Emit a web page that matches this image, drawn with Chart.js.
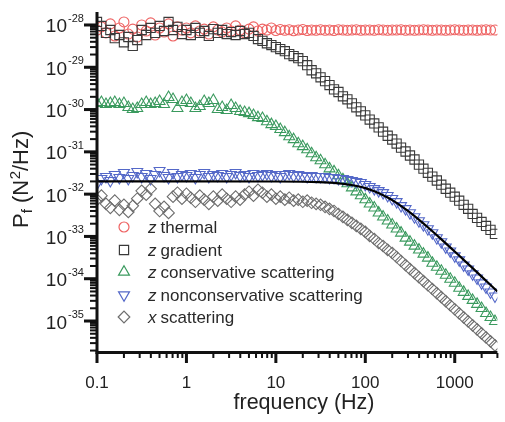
<!DOCTYPE html>
<html><head><meta charset="utf-8">
<script src="https://cdn.jsdelivr.net/npm/chart.js@4.4.1/dist/chart.umd.min.js"></script>
<style>html,body{margin:0;padding:0;background:#fff;}#wrap{width:505px;height:422px;}</style>
</head><body><div id="wrap"><canvas id="c" width="505" height="422"></canvas></div>
<script>
// ---- data ----
const freq = [0.1,0.112,0.126,0.141,0.158,0.178,0.2,0.224,0.251,0.282,0.316,0.355,0.398,0.447,0.501,0.562,0.631,0.708,0.794,0.891,
1,1.12,1.26,1.41,1.58,1.78,2,2.24,2.51,2.82,3.16,3.55,3.98,4.47,5.01,5.62,6.31,7.08,7.94,8.91,
10,11.2,12.6,14.1,15.8,17.8,20,22.4,25.1,28.2,31.6,35.5,39.8,44.7,50.1,56.2,63.1,70.8,79.4,89.1,
100,112,126,141,158,178,200,224,251,282,316,355,398,447,501,562,631,708,794,891,
1000,1122,1259,1413,1585,1778,1995,2239,2512,2818];

const zThermal = [7.6e-29,9.0e-29,6.5e-29,1.06e-28,5.5e-29,8.5e-29,1.18e-28,6.1e-29,8.0e-29,5.2e-29,
1.0e-28,7.2e-29,1.12e-28,5.8e-29,8.5e-29,6.8e-29,1.06e-28,5.5e-29,9.0e-29,7.6e-29,
8.5e-29,6.5e-29,9.5e-29,7.2e-29,8.0e-29,6.1e-29,9.0e-29,7.6e-29,6.8e-29,8.5e-29,
7.2e-29,9.5e-29,7.6e-29,6.5e-29,8.0e-29,9.0e-29,7.2e-29,8.0e-29,7.6e-29,8.5e-29,
7.4e-29,7.8e-29,7.5e-29,7.7e-29,7.3e-29,7.6e-29,7.8e-29,7.4e-29,7.6e-29,7.5e-29,
7.7e-29,7.5e-29,7.6e-29,7.4e-29,7.7e-29,7.6e-29,7.5e-29,7.6e-29,7.7e-29,7.5e-29,
7.6e-29,7.6e-29,7.5e-29,7.7e-29,7.6e-29,7.5e-29,7.6e-29,7.6e-29,7.7e-29,7.5e-29,
7.6e-29,7.5e-29,7.6e-29,7.7e-29,7.6e-29,7.5e-29,7.6e-29,7.6e-29,7.5e-29,7.6e-29,
7.7e-29,7.6e-29,7.5e-29,7.6e-29,7.6e-29,7.5e-29,7.6e-29,7.7e-29,7.6e-29,7.6e-29];

const zGradient = [1.18e-28,9.5e-29,6.5e-29,7.6e-29,4.9e-29,5.8e-29,3.9e-29,5.2e-29,3.2e-29,4.4e-29,
7.6e-29,5.8e-29,8.5e-29,6.5e-29,9.5e-29,7.2e-29,1.18e-28,7.6e-29,9.0e-29,6.1e-29,
7.6e-29,5.8e-29,8.5e-29,6.5e-29,7.2e-29,5.5e-29,8.0e-29,6.5e-29,7.6e-29,6.1e-29,
6.8e-29,5.8e-29,7.2e-29,6.1e-29,6.5e-29,5.5e-29,4.65e-29,4.2e-29,3.7e-29,3.35e-29,
3.0e-29,2.7e-29,2.4e-29,2.05e-29,1.84e-29,1.64e-29,1.4e-29,1.12e-29,8.5e-30,7.2e-30,
5.8e-30,4.7e-30,3.8e-30,3.0e-30,2.6e-30,2.06e-30,1.75e-30,1.4e-30,1.13e-30,9.1e-31,
7.3e-31,5.8e-31,4.7e-31,3.8e-31,3.0e-31,2.4e-31,1.96e-31,1.57e-31,1.26e-31,1.02e-31,
8.2e-32,6.6e-32,5.0e-32,4.0e-32,3.2e-32,2.6e-32,2.1e-32,1.67e-32,1.34e-32,1.08e-32,
8.7e-33,7.0e-33,5.6e-33,4.5e-33,3.4e-33,2.75e-33,2.2e-33,1.77e-33,1.43e-33,1.15e-33];

const zConservative = [1.40e-30,1.48e-30,1.33e-30,1.40e-30,1.48e-30,1.33e-30,1.40e-30,1.13e-30,1.01e-30,1.07e-30,
1.33e-30,1.48e-30,1.33e-30,1.40e-30,1.57e-30,1.33e-30,1.95e-30,1.75e-30,1.07e-30,1.48e-30,
1.65e-30,1.40e-30,1.07e-30,1.19e-30,1.57e-30,1.40e-30,1.65e-30,1.01e-30,1.13e-30,9.6e-31,
1.26e-30,1.07e-30,9.1e-31,8.6e-31,8.1e-31,7.3e-31,6.5e-31,6.2e-31,5.2e-31,4.45e-31,
4.0e-31,3.4e-31,2.87e-31,2.3e-31,1.96e-31,1.57e-31,1.34e-31,1.13e-31,9.1e-32,7.3e-32,
6.2e-32,5.0e-32,4.0e-32,3.4e-32,2.74e-32,2.2e-32,1.77e-32,1.42e-32,1.14e-32,9.2e-33,
7.4e-33,5.9e-33,4.75e-33,3.6e-33,2.9e-33,2.33e-33,1.88e-33,1.51e-33,1.21e-33,9.2e-34,
7.4e-34,5.95e-34,4.8e-34,3.84e-34,3.1e-34,2.35e-34,1.89e-34,1.52e-34,1.22e-34,9.8e-35,
7.9e-35,6.0e-35,4.8e-35,3.86e-35,3.1e-35,2.5e-35,2.0e-35,1.52e-35,1.22e-35,9.8e-36];

const zNonconservative = [1.77e-32,2.32e-32,2.59e-32,2.08e-32,2.89e-32,2.45e-32,3.22e-32,2.32e-32,2.74e-32,3.4e-32,
2.59e-32,3.05e-32,2.32e-32,2.89e-32,3.6e-32,2.74e-32,2.45e-32,3.22e-32,2.59e-32,2.89e-32,
2.74e-32,3.05e-32,2.45e-32,2.89e-32,3.22e-32,2.59e-32,2.89e-32,2.74e-32,3.05e-32,2.59e-32,
2.89e-32,3.22e-32,2.74e-32,2.89e-32,2.59e-32,3.05e-32,2.74e-32,2.89e-32,3.05e-32,2.74e-32,
2.89e-32,2.59e-32,2.89e-32,3.05e-32,2.74e-32,2.89e-32,2.74e-32,2.59e-32,2.74e-32,2.59e-32,
2.59e-32,2.59e-32,2.45e-32,2.45e-32,2.32e-32,2.32e-32,2.2e-32,2.08e-32,1.97e-32,1.87e-32,
1.67e-32,1.5e-32,1.34e-32,1.2e-32,1.08e-32,9.2e-33,7.8e-33,6.6e-33,5.3e-33,4.5e-33,
3.6e-33,2.9e-33,2.33e-33,1.88e-33,1.51e-33,1.21e-33,9.2e-34,7.4e-34,5.6e-34,4.5e-34,
3.44e-34,2.77e-34,2.1e-34,1.69e-34,1.29e-34,1.03e-34,7.9e-35,6.3e-35,4.8e-35,3.86e-35];

const xScattering = [7.4e-33,9.2e-33,5.9e-33,4.75e-33,7.0e-33,4.26e-33,5.6e-33,3.8e-33,5.3e-33,7.8e-33,
1.2e-32,9.7e-33,1.34e-32,5.9e-33,4.0e-33,5.0e-33,3.6e-33,8.7e-33,1.08e-32,7.8e-33,
1.02e-32,8.2e-33,6.6e-33,9.2e-33,7.4e-33,5.9e-33,8.7e-33,7.0e-33,9.7e-33,7.8e-33,
6.6e-33,8.7e-33,7.4e-33,9.7e-33,1.14e-32,9.2e-33,1.27e-32,1.08e-32,8.7e-33,9.7e-33,
7.8e-33,8.7e-33,7.4e-33,8.2e-33,7.0e-33,7.4e-33,6.6e-33,7.0e-33,6.25e-33,5.9e-33,
5.6e-33,5.0e-33,4.5e-33,4.0e-33,3.4e-33,2.9e-33,2.47e-33,2.1e-33,1.77e-33,1.51e-33,
1.28e-33,1.03e-33,8.7e-34,7.0e-34,5.95e-34,4.8e-34,4.06e-34,3.26e-34,2.62e-34,2.1e-34,
1.69e-34,1.36e-34,1.09e-34,8.8e-35,7.0e-35,5.7e-35,4.55e-35,3.66e-35,2.94e-35,2.36e-35,
1.9e-35,1.52e-35,1.22e-35,9.8e-36,7.9e-36,6.35e-36,5.1e-36,4.1e-36,3.3e-36,2.65e-36];

const fitFreq = [0.1,1,10,20,30,40,50,60,70,85,100,120,150,180,200,250,300,400,500,700,1000,1500,2000,3000];
const fitValues = [2.0e-32,2.0e-32,1.99e-32,1.965e-32,1.923e-32,1.867e-32,1.80e-32,1.724e-32,1.642e-32,1.514e-32,1.385e-32,1.22e-32,1.0e-32,8.2e-33,7.2e-33,5.29e-33,4.0e-33,2.466e-33,1.651e-33,8.78e-34,4.40e-34,1.98e-34,1.119e-34,4.99e-35];

const xTickValues = [0.1,1,10,100,1000];
const xTickLabels = ['0.1','1','10','100','1000'];
const yTickExponents = [-28,-29,-30,-31,-32,-33,-34,-35];
const legendPrefixes = ['z','z','z','z','x'];
const legendLabels = ['thermal','gradient','conservative scattering','nonconservative scattering','scattering'];

// ---- styles ----
const FONT = '"Liberation Sans", Arial, Helvetica, sans-serif';
const styles = [
  {color:'#ee6262', pointStyle:'circle', radius:5, rotation:0},
  {color:'#3a3a3a', pointStyle:'rect', radius:6.5, rotation:0},
  {color:'#3a9a5e', pointStyle:'triangle', radius:6.3, rotation:0},
  {color:'#5468c8', pointStyle:'triangle', radius:6.3, rotation:180},
  {color:'#6e6e6e', pointStyle:'rectRot', radius:5.8, rotation:0}
];
const seriesValues = [zThermal, zGradient, zConservative, zNonconservative, xScattering];

function scatterSet(i){
  const s = styles[i];
  return {
    type:'scatter',
    data: freq.map((f,k)=>({x:f, y:seriesValues[i][k]})),
    showLine:false,
    pointStyle:s.pointStyle, pointRadius:s.radius, pointRotation:s.rotation,
    pointBorderColor:s.color, pointBackgroundColor:'rgba(0,0,0,0)', pointBorderWidth:1.1,
    borderColor:s.color, backgroundColor:'rgba(0,0,0,0)'
  };
}

const datasets = [
  {type:'scatter', data: fitFreq.map((f,k)=>({x:f,y:fitValues[k]})), showLine:true, pointRadius:0,
   borderColor:'#000', borderWidth:2.2, cubicInterpolationMode:'monotone', fill:false},
  scatterSet(4), scatterSet(3), scatterSet(2), scatterSet(1), scatterSet(0)
];

function drawMarker(ctx, s, x, y){
  ctx.save();
  ctx.strokeStyle = s.color; ctx.fillStyle = 'rgba(0,0,0,0)'; ctx.lineWidth = 1.2;
  if (Chart.helpers && Chart.helpers.drawPoint) {
    Chart.helpers.drawPoint(ctx, {pointStyle:s.pointStyle, rotation:s.rotation, radius:s.radius, borderWidth:1.2}, x, y);
  }
  ctx.restore();
}

const deco = {
  id:'deco',
  afterDraw(chart){
    const ctx = chart.ctx, xs = chart.scales.x, ys = chart.scales.y, a = chart.chartArea;
    ctx.save();
    ctx.fillStyle = '#111';
    // axis lines
    ctx.fillRect(a.left - 1.5, a.top - 1, 3, a.bottom - a.top + 2.5);
    ctx.fillRect(a.left - 1.5, a.bottom - 1, a.right - a.left + 1.5, 3);
    // x ticks
    for (let e=-1; e<=3; e++) for (let m=1; m<=9; m++){
      const v = m*Math.pow(10,e);
      if (v < xs.min*0.999 || v > xs.max*1.001) continue;
      const px = xs.getPixelForValue(v);
      if (m===1) ctx.fillRect(px-1.5, a.bottom+1, 3, 10);
      else ctx.fillRect(px-1, a.bottom+1, 2, 5);
    }
    // y ticks
    for (let e=-36; e<=-28; e++) for (let m=1; m<=9; m++){
      const v = m*Math.pow(10,e);
      if (v < ys.min*0.999 || v > ys.max*1.001) continue;
      const py = ys.getPixelForValue(v);
      if (m===1) ctx.fillRect(a.left-13, py-1.5, 12, 3);
      else ctx.fillRect(a.left-7, py-1, 6, 2);
    }
    // x tick labels
    ctx.fillStyle = '#222';
    ctx.font = '17px ' + FONT; ctx.textAlign = 'center'; ctx.textBaseline = 'alphabetic';
    xTickValues.forEach((v,i)=>{ ctx.fillText(xTickLabels[i], xs.getPixelForValue(v), 388); });
    // y tick labels
    yTickExponents.forEach(e=>{
      const py = ys.getPixelForValue(Math.pow(10,e));
      ctx.font = '19px ' + FONT; ctx.textAlign = 'right';
      ctx.fillText('10', 67, py+7.5);
      ctx.font = '11px ' + FONT; ctx.textAlign = 'left';
      ctx.fillText(String(e), 68, py-3);
    });
    // x title
    ctx.font = '21.5px ' + FONT; ctx.textAlign = 'center';
    ctx.fillText('frequency (Hz)', 304, 409);
    // y title (rotated)
    ctx.save();
    ctx.translate(28, 228);
    ctx.rotate(-Math.PI/2);
    ctx.textAlign = 'left';
    let cx = 0;
    const big = '22px ' + FONT, small = '15px ' + FONT;
    ctx.font = big; ctx.fillText('P', cx, 0); cx += ctx.measureText('P').width;
    ctx.font = small; ctx.fillText('f', cx, 4); cx += ctx.measureText('f').width;
    ctx.font = big; ctx.fillText(' (N', cx, 0); cx += ctx.measureText(' (N').width;
    ctx.font = small; ctx.fillText('2', cx+0.5, -8); cx += ctx.measureText('2').width + 0.5;
    ctx.font = big; ctx.fillText('/Hz)', cx, 0);
    ctx.restore();
    // legend
    const rows = [227, 250, 272, 295, 317];
    styles.forEach((s,i)=>{
      drawMarker(ctx, s, 124, rows[i]);
      ctx.fillStyle = '#2a2a2a';
      ctx.textAlign = 'left';
      ctx.font = 'italic 17px ' + FONT;
      ctx.fillText(legendPrefixes[i], 148, rows[i]+6);
      const w = ctx.measureText(legendPrefixes[i]).width;
      ctx.font = '17px ' + FONT;
      ctx.fillText(legendLabels[i], 148 + w + 4, rows[i]+6);
    });
    ctx.restore();
  }
};

new Chart(document.getElementById('c'), {
  type:'scatter',
  data:{datasets},
  options:{
    responsive:false, animation:false, devicePixelRatio:1, events:[],
    layout:{padding:{top:13, right:2, left:0, bottom:0}},
    plugins:{legend:{display:false}, tooltip:{enabled:false}},
    scales:{
      x:{type:'logarithmic', min:0.1, max:3000, ticks:{display:false}, grid:{display:false}, border:{display:false},
         afterFit:(s)=>{ s.height = 70; }},
      y:{type:'logarithmic', min:1.85e-36, max:1.92e-28, ticks:{display:false}, grid:{display:false}, border:{display:false},
         afterFit:(s)=>{ s.width = 97; }}
    }
  },
  plugins:[deco]
});
</script>
</body></html>
